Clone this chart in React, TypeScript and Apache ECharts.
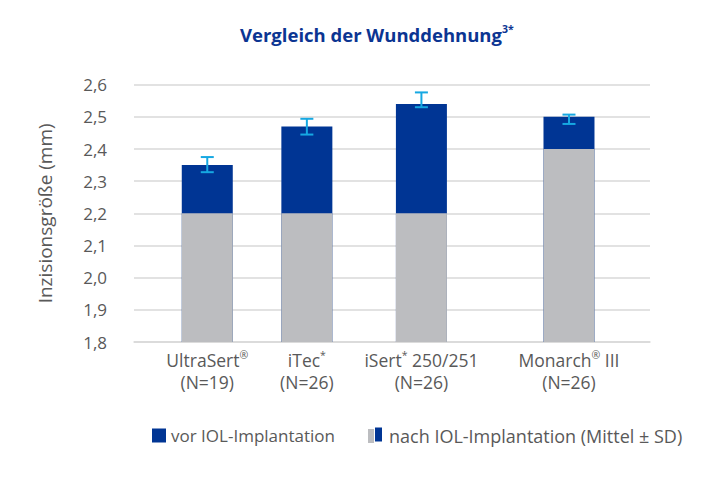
import React, { useEffect, useRef } from "react";
import * as echarts from "echarts";

const categoryNames = ["UltraSert", "iTec", "iSert", "Monarch"];
const categoryMarks = ["®", "*", "*", "®"];
const categorySuffix = ["", "", " 250/251", " III"];
const sampleSizes = [19, 26, 26, 26];
const categoryPositions = [14.2, 33.5, 55.7, 84.3];
const baseValues = [2.2, 2.2, 2.2, 2.4];
const totalValues = [2.35, 2.47, 2.54, 2.5];
const errorLow = [2.328, 2.445, 2.53, 2.478];
const errorHigh = [2.375, 2.494, 2.576, 2.507];
const legendNames = ["vor IOL-Implantation", "nach IOL-Implantation (Mittel ± SD)"];

const BLUE = "#003594";
const GREY = "#bcbdc0";
const CYAN = "#16a8e2";
const TEXT = "#595959";
const GRID = "#d9d9d9";
const FONT = "'Open Sans', 'Noto Sans', sans-serif";

export default function App() {
  const ref = useRef<HTMLDivElement>(null);
  useEffect(() => {
    document.body.style.margin = "0";
    const chart = echarts.init(ref.current!, null, { renderer: "svg" });
    const findIdx = (v: number) =>
      categoryPositions.findIndex((p) => Math.abs(p - v) < 0.01);
    const option: any = {
      animation: false,
      textStyle: { fontFamily: FONT },
      title: {
        text: "{b|Vergleich der Wunddehnung}{s|3*}",
        left: 235,
        top: 18,
        textStyle: {
          rich: {
            b: { fontSize: 18.5, fontWeight: "bold", color: "#0b3592", fontFamily: FONT, lineHeight: 22 },
            s: { fontSize: 10.5, fontWeight: "bold", color: "#0b3592", fontFamily: FONT, verticalAlign: "top", lineHeight: 22 },
          },
        },
      },
      grid: { left: 134, right: 70, top: 84.7, bottom: 154 },
      legend: [
        {
          data: [{ name: legendNames[0], icon: "rect" }],
          left: 147,
          top: 422,
          itemWidth: 14,
          itemHeight: 14,
          selectedMode: false,
          textStyle: { fontSize: 17, color: TEXT, fontFamily: FONT },
        },
        {
          data: [{ name: legendNames[1], icon: "rect" }],
          left: 363,
          top: 422,
          itemWidth: 6,
          itemHeight: 14,
          selectedMode: false,
          textStyle: { fontSize: 18, color: TEXT, fontFamily: FONT, padding: [0, 0, 0, 10] },
        },
      ],
      graphic: [
        { type: "rect", left: 375, top: 427.5, shape: { width: 7, height: 14 }, style: { fill: BLUE } },
      ],
      xAxis: {
        type: "value",
        min: 0,
        max: 100,
        splitLine: { show: false },
        axisTick: { show: false },
        axisLine: { show: true, lineStyle: { color: GRID, width: 1.5 } },
        axisLabel: {
          customValues: categoryPositions,
          margin: 7,
          formatter: (v: number) => {
            const i = findIdx(v);
            if (i < 0) return "";
            return `{n|${categoryNames[i]}}{s|${categoryMarks[i]}}{n|${categorySuffix[i]}}\n{n|(N=${sampleSizes[i]})}`;
          },
          rich: {
            n: { fontSize: 17.5, color: TEXT, fontFamily: FONT, lineHeight: 22 },
            s: { fontSize: 10.5, color: TEXT, fontFamily: FONT, lineHeight: 22, verticalAlign: "top" },
          },
        },
      },
      yAxis: {
        type: "value",
        min: 1.8,
        max: 2.6,
        interval: 0.1,
        name: "Inzisionsgröße (mm)",
        nameLocation: "middle",
        nameGap: 80,
        nameTextStyle: { fontSize: 19, color: TEXT, fontFamily: FONT },
        axisLine: { show: false },
        axisTick: { show: false },
        splitLine: { lineStyle: { color: GRID, width: 1.5 } },
        axisLabel: {
          fontSize: 17,
          color: TEXT,
          margin: 27,
          fontFamily: FONT,
          formatter: (v: number) => v.toFixed(1).replace(".", ","),
        },
      },
      series: [
        {
          name: legendNames[0],
          type: "bar",
          barWidth: 51,
          barGap: "-100%",
          itemStyle: { color: BLUE },
          data: categoryPositions.map((p, i) => [p, totalValues[i]]),
        },
        {
          name: legendNames[1],
          type: "bar",
          barWidth: 51,
          barGap: "-100%",
          itemStyle: { color: GREY },
          data: categoryPositions.map((p, i) => [p, baseValues[i]]),
        },
        {
          type: "custom",
          z: 10,
          data: categoryPositions.map((p, i) => [p, errorLow[i], errorHigh[i]]),
          renderItem: (params: any, api: any) => {
            const x = api.value(0);
            const lo = api.coord([x, api.value(1)]);
            const hi = api.coord([x, api.value(2)]);
            const hw = 6.5;
            const style = { stroke: CYAN, lineWidth: 2, fill: "none" };
            return {
              type: "group",
              children: [
                { type: "line", shape: { x1: lo[0], y1: lo[1], x2: hi[0], y2: hi[1] }, style },
                { type: "line", shape: { x1: lo[0] - hw, y1: lo[1], x2: lo[0] + hw, y2: lo[1] }, style },
                { type: "line", shape: { x1: hi[0] - hw, y1: hi[1], x2: hi[0] + hw, y2: hi[1] }, style },
              ],
            };
          },
        },
      ],
    };
    chart.setOption(option);
    return () => chart.dispose();
  }, []);
  return <div ref={ref} style={{ width: 720, height: 496 }} />;
}
